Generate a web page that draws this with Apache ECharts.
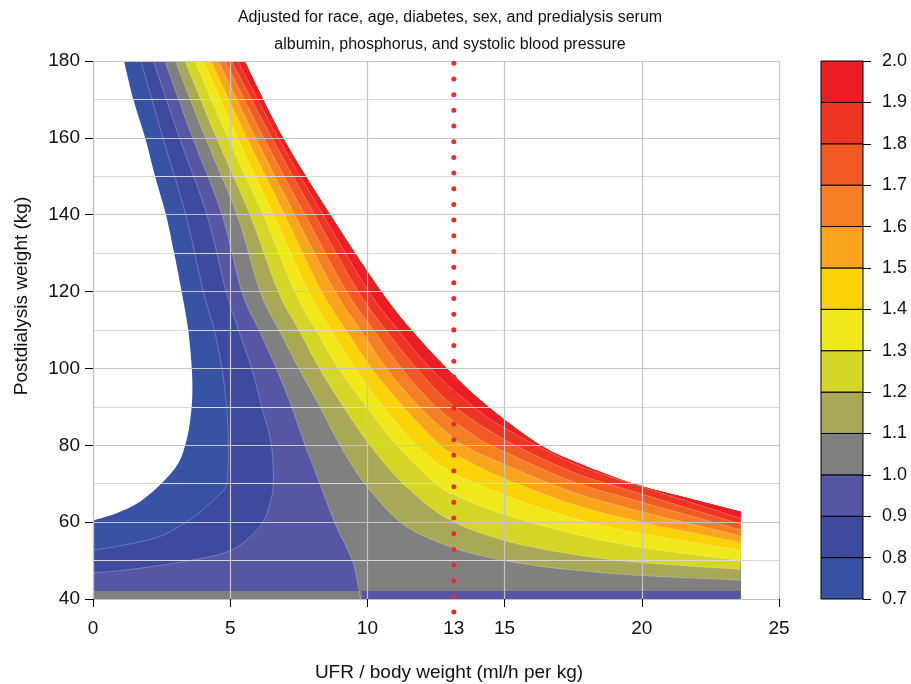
<!DOCTYPE html>
<html>
<head>
<meta charset="utf-8">
<script src="https://cdn.jsdelivr.net/npm/echarts@6/dist/echarts.min.js"></script>
<style>
  html, body { margin: 0; padding: 0; background: #fff; }
  #chart { width: 911px; height: 684px; }
</style>
</head>
<body>
<div id="chart"></div>
<script>
// contour levels of the colour key
const levels = [0.7, 0.8, 0.9, 1.0, 1.1, 1.2, 1.3, 1.4, 1.5, 1.6, 1.7, 1.8, 1.9, 2.0];
const xTicks = [0, 5, 10, 15, 20, 25];

// contour lines: [UFR/kg, weight kg]
const c07 = [[1.13,180],[1.47,170],[1.90,160],[2.26,150],[2.66,140],[2.93,131],[3.23,120],[3.47,110],[3.60,100],[3.62,93],[3.55,87],[3.41,81.4],[3.11,75.3],[2.50,70.1],[1.71,65.3],[0.86,62.3],[0,60.4]];
const c08 = [[1.75,180],[2.55,160],[3.38,140],[4.02,120],[4.42,110],[4.7,100],[4.87,90],[4.93,80],[4.87,70],[4.51,66.6],[4.2,64.5],[3.7,61.5],[3.0,58.3],[2.32,56],[1.11,54],[0,52.7]];
const c09 = [[2.20,180],[3.15,160],[4.15,140],[4.85,120],[5.3,110],[5.78,100],[6.15,90],[6.5,80],[6.57,70],[6.45,65],[6.2,60],[5.6,55.4],[4.75,51.9],[2.93,49.3],[1.11,47.5],[0,46.8]];
const c10 = [[2.62,180],[3.63,160],[4.70,140],[5.42,120],[6.05,110],[6.68,100],[7.24,90],[7.73,80],[8.27,70],[8.8,60],[9.45,50],[9.67,43],[9.75,40]];
const c11 = [[3.00,180],[4.10,160],[5.25,140],[6.09,120],[6.78,110],[7.5,100],[8.27,90],[9.0,80],[9.9,70],[11.2,60],[12.5,55],[14,51.5],[16,48.8],[18,47.2],[20,46.1],[23.6,44.9]];
const c12 = [[3.35,180],[4.5,160],[5.72,140],[6.75,120],[7.5,110],[8.25,100],[9.12,90],[10.09,80],[11.3,70],[12.9,61],[15,55.2],[17.5,51.6],[20,49.5],[23.6,47.7]];
const c13 = [[3.72,180],[4.92,160],[6.2,140],[7.36,120],[8.12,110],[8.95,100],[9.97,90],[11.07,80],[12.5,70],[13.2,67],[15,62],[17.5,57],[20,53.4],[23.6,50.1]];
const c14 = [[4.02,180],[5.26,160],[6.57,140],[7.85,120],[8.68,110],[9.55,100],[10.58,90],[11.8,80],[13,73.3],[15,67],[17.5,61],[20,57],[23.6,52.6]];
const c15 = [[4.3,180],[5.6,160],[6.98,140],[8.33,120],[9.22,110],[10.15,100],[11.31,90],[12.65,80],[13.5,76.5],[15,71.3],[17.5,64.6],[20,60],[23.6,54.7]];
const c16 = [[4.57,180],[5.92,160],[7.35,140],[8.82,120],[9.75,110],[10.7,100],[11.9,90],[13.4,80.5],[15,75],[17.5,67.8],[20,62.7],[23.6,56.4]];
const c17 = [[4.81,180],[6.22,160],[7.72,140],[9.24,120],[10.22,110],[11.25,100],[12.5,90],[14.0,82],[15,78.3],[17.5,70.5],[20,65.2],[23.6,58]];
const c18 = [[5.05,180],[6.52,160],[8.08,140],[9.67,120],[10.67,110],[11.8,100],[13.1,90.5],[15,81.5],[17.5,73],[20,67.3],[23.6,59.5]];
const c19 = [[5.28,180],[6.75,160],[8.38,140],[10.05,120],[11.12,110],[12.3,100],[13.7,91],[15,84.5],[17.5,75.3],[20,69.2],[23.6,61]];
const c20 = [[5.52,180],[6.92,160],[8.64,140],[10.5,120],[11.6,110],[12.89,100],[14.4,90],[16.3,80],[17.8,75],[19.7,70],[21.8,66],[23.6,62.7]];

// thin strip along the bottom edge: [x from, x to, band index]
const stripX = [[0, 9.8, 3], [9.8, 23.6, 2]];
const stripTop = 42.1;

// dotted reference line at UFR 13
const refUfr = 13.15;
const refLine = [[refUfr, 179.4], [refUfr, 36.55]];
const xLabels = [0, 5, 10, refUfr, 15, 20, 25];

const colors = ['#3853a4', '#3e4a9e', '#5656a5', '#808080', '#a8a857', '#d5d628',
  '#f1e81a', '#fcd208', '#f9a61d', '#f57f25', '#f15a25', '#ee3524', '#ec1e25'];

const contours = [c07, c08, c09, c10, c11, c12, c13, c14, c15, c16, c17, c18, c19];
const xEnd = 23.6;
const yMin = 40;

// smooth path through pixel points (catmull-rom as bezier)
function curve(p, move) {
  let d = (move ? 'M' : 'L') + p[0][0] + ' ' + p[0][1];
  for (let i = 0; i < p.length - 1; i++) {
    const a = p[i - 1] || p[i], b = p[i], c = p[i + 1], e = p[i + 2] || c;
    d += ' C' + (b[0] + (c[0] - a[0]) / 6) + ' ' + (b[1] + (c[1] - a[1]) / 6) + ' ' +
      (c[0] - (e[0] - b[0]) / 6) + ' ' + (c[1] - (e[1] - b[1]) / 6) + ' ' + c[0] + ' ' + c[1];
  }
  return d;
}

// region "value >= level": contour, round the bottom / right edge, back along the 2.0 line
function bandPath(i, api) {
  const c = contours[i];
  const last = c[c.length - 1];
  let d = curve(c.map(p => api.coord(p)), true);
  const edge = [];
  if (last[0] === 0) edge.push([0, yMin]);
  if (last[0] !== xEnd) edge.push([xEnd, yMin]);
  edge.forEach(p => { const q = api.coord(p); d += ' L' + q[0] + ' ' + q[1]; });
  d += ' ' + curve(c20.slice().reverse().map(p => api.coord(p)), false);
  return d + ' Z';
}

const font = "'Liberation Sans', Arial, sans-serif";
const chart = echarts.init(document.getElementById('chart'));

chart.setOption({
  animation: false,
  textStyle: { fontFamily: font },
  grid: [
    { left: 93, top: 61, width: 686, height: 538 },
    { left: 821, top: 61, width: 42, height: 538 }
  ],
  xAxis: [
    {
      gridIndex: 0, type: 'value', min: 0, max: 25, interval: 5, z: 3,
      axisLine: { show: true, lineStyle: { color: '#c0c0c0', width: 1.2 } },
      axisTick: { show: true, length: 8, customValues: xTicks, lineStyle: { color: '#000' } },
      axisLabel: { customValues: xLabels, color: '#111', fontSize: 19, margin: 20, formatter: v => String(Math.round(v)) },
      splitLine: { show: true, lineStyle: { color: '#c4c4c4', width: 1.2 } }
    },
    {
      gridIndex: 1, type: 'value', min: 0, max: 1, show: false,
      axisLine: { show: false }, axisTick: { show: false }, axisLabel: { show: false }, splitLine: { show: false }
    }
  ],
  yAxis: [
    {
      gridIndex: 0, type: 'value', min: 40, max: 180, interval: 20, z: 3,
      axisLine: { show: true, lineStyle: { color: '#c0c0c0', width: 1.2 } },
      axisTick: { show: true, length: 8, lineStyle: { color: '#000' } },
      axisLabel: { color: '#111', fontSize: 19, margin: 13 },
      splitLine: { show: true, lineStyle: { color: '#c4c4c4', width: 1.2 } },
      minorTick: { show: false, splitNumber: 2 },
      minorSplitLine: { show: true, lineStyle: { color: '#d8d8d8', width: 1.2 } }
    },
    {
      gridIndex: 1, type: 'value', min: 0.7, max: 2.0, interval: 0.1, position: 'right',
      axisLine: { show: false, onZero: false },
      axisTick: { show: true, length: 8, lineStyle: { color: '#000' } },
      axisLabel: { color: '#111', fontSize: 18, margin: 19, formatter: v => v.toFixed(1) },
      splitLine: { show: false }
    }
  ],
  graphic: [
    { type: 'text', x: 450, y: 18, style: { text: 'Adjusted for race, age, diabetes, sex, and predialysis serum', font: '16px ' + font, fill: '#111', align: 'center', verticalAlign: 'middle' } },
    { type: 'text', x: 450, y: 45, style: { text: 'albumin, phosphorus, and systolic blood pressure', font: '16px ' + font, fill: '#111', align: 'center', verticalAlign: 'middle' } },
    { type: 'text', x: 449, y: 673, style: { text: 'UFR / body weight (ml/h per kg)', font: '19px ' + font, fill: '#111', align: 'center', verticalAlign: 'middle' } },
    { type: 'text', x: 22, y: 296, rotation: Math.PI / 2, style: { text: 'Postdialysis weight (kg)', font: '19px ' + font, fill: '#111', align: 'center', verticalAlign: 'middle' } }
  ],
  series: [
    {
      type: 'custom', xAxisIndex: 0, yAxisIndex: 0, z: 1,
      data: contours.map((c, i) => [i]),
      renderItem: (params, api) => ({
        type: 'path',
        shape: { pathData: bandPath(params.dataIndex, api) },
        style: { fill: colors[params.dataIndex] }
      })
    },
    {
      type: 'custom', xAxisIndex: 0, yAxisIndex: 0, z: 1,
      data: stripX.map((s, i) => [i]),
      renderItem: (params, api) => {
        const s = stripX[params.dataIndex];
        const a = api.coord([s[0], stripTop]);
        const b = api.coord([s[1], yMin]);
        return {
          type: 'rect',
          shape: { x: a[0], y: a[1], width: b[0] - a[0], height: b[1] - a[1] },
          style: { fill: colors[s[2]] }
        };
      }
    },
    {
      type: 'custom', xAxisIndex: 0, yAxisIndex: 0, z: 2,
      data: contours.slice(1).map((c, i) => [i]),
      renderItem: (params, api) => ({
        type: 'path',
        shape: { pathData: curve(contours[params.dataIndex + 1].map(p => api.coord(p)), true) },
        style: { stroke: 'rgba(255,255,255,0.3)', lineWidth: 0.8, fill: null }
      })
    },
    {
      type: 'line', xAxisIndex: 0, yAxisIndex: 0, z: 5, clip: false,
      data: refLine, symbol: 'none',
      lineStyle: { color: '#ee2a2a', width: 5, type: [0.01, 15.67], cap: 'round' }
    },
    {
      type: 'custom', xAxisIndex: 1, yAxisIndex: 1,
      data: colors.map((c, i) => [0.5, (levels[i] + levels[i + 1]) / 2]),
      renderItem: (params, api) => {
        const i = params.dataIndex;
        const a = api.coord([0, levels[i + 1]]);
        const b = api.coord([1, levels[i]]);
        return {
          type: 'rect',
          shape: { x: a[0], y: a[1], width: b[0] - a[0], height: b[1] - a[1] },
          style: { fill: colors[i], stroke: '#000', lineWidth: 1 }
        };
      }
    }
  ]
});
</script>
</body>
</html>
